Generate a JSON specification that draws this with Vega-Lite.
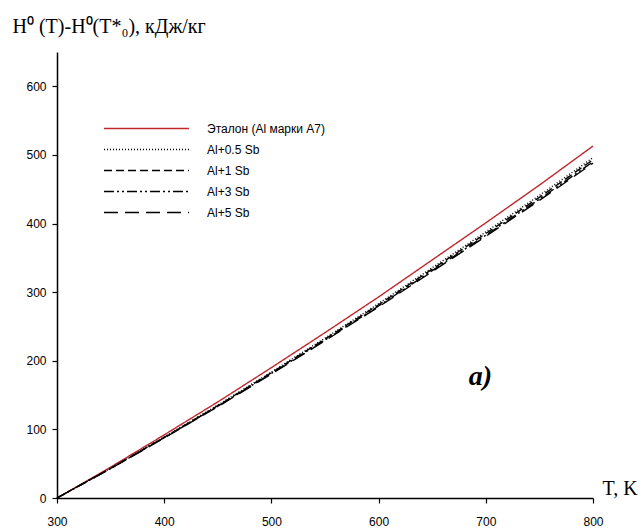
{
  "$schema": "https://vega.github.io/schema/vega-lite/v6.json",
  "width": 536,
  "height": 446,
  "autosize": {"type": "none"},
  "padding": {"left": 57, "top": 52, "right": 50, "bottom": 33},
  "background": "white",
  "config": {
    "view": {"stroke": null},
    "font": "Liberation Sans",
    "axis": {
      "domainColor": "black", "domainWidth": 1.5, "tickColor": "black", "tickWidth": 1.2, "tickSize": 5,
      "labelFont": "Liberation Sans", "labelFontSize": 12, "labelColor": "black", "grid": false,
      "titleFont": "Liberation Serif", "titleFontSize": 20, "titleFontWeight": "normal", "titleColor": "black"
    }
  },
  "datasets": {
    "curves": [
      {"T": 300, "H": 0, "s": "Эталон (Al марки А7)"},
      {"T": 350, "H": 45, "s": "Эталон (Al марки А7)"},
      {"T": 400, "H": 92, "s": "Эталон (Al марки А7)"},
      {"T": 450, "H": 140, "s": "Эталон (Al марки А7)"},
      {"T": 500, "H": 190, "s": "Эталон (Al марки А7)"},
      {"T": 550, "H": 241, "s": "Эталон (Al марки А7)"},
      {"T": 600, "H": 293, "s": "Эталон (Al марки А7)"},
      {"T": 650, "H": 347, "s": "Эталон (Al марки А7)"},
      {"T": 700, "H": 401, "s": "Эталон (Al марки А7)"},
      {"T": 750, "H": 456, "s": "Эталон (Al марки А7)"},
      {"T": 800, "H": 513, "s": "Эталон (Al марки А7)"},
      {"T": 300, "H": 0, "s": "Al+0.5 Sb"},
      {"T": 350, "H": 43.5, "s": "Al+0.5 Sb"},
      {"T": 400, "H": 89, "s": "Al+0.5 Sb"},
      {"T": 450, "H": 135.4, "s": "Al+0.5 Sb"},
      {"T": 500, "H": 183.7, "s": "Al+0.5 Sb"},
      {"T": 550, "H": 233, "s": "Al+0.5 Sb"},
      {"T": 600, "H": 283.3, "s": "Al+0.5 Sb"},
      {"T": 650, "H": 335.5, "s": "Al+0.5 Sb"},
      {"T": 700, "H": 387.8, "s": "Al+0.5 Sb"},
      {"T": 750, "H": 441, "s": "Al+0.5 Sb"},
      {"T": 800, "H": 496, "s": "Al+0.5 Sb"},
      {"T": 300, "H": 0, "s": "Al+1 Sb"},
      {"T": 350, "H": 43.2, "s": "Al+1 Sb"},
      {"T": 400, "H": 88.4, "s": "Al+1 Sb"},
      {"T": 450, "H": 134.5, "s": "Al+1 Sb"},
      {"T": 500, "H": 182.6, "s": "Al+1 Sb"},
      {"T": 550, "H": 231.6, "s": "Al+1 Sb"},
      {"T": 600, "H": 281.6, "s": "Al+1 Sb"},
      {"T": 650, "H": 333.5, "s": "Al+1 Sb"},
      {"T": 700, "H": 385.4, "s": "Al+1 Sb"},
      {"T": 750, "H": 438.2, "s": "Al+1 Sb"},
      {"T": 800, "H": 493, "s": "Al+1 Sb"},
      {"T": 300, "H": 0, "s": "Al+3 Sb"},
      {"T": 350, "H": 43, "s": "Al+3 Sb"},
      {"T": 400, "H": 87.9, "s": "Al+3 Sb"},
      {"T": 450, "H": 133.7, "s": "Al+3 Sb"},
      {"T": 500, "H": 181.5, "s": "Al+3 Sb"},
      {"T": 550, "H": 230.2, "s": "Al+3 Sb"},
      {"T": 600, "H": 279.8, "s": "Al+3 Sb"},
      {"T": 650, "H": 331.4, "s": "Al+3 Sb"},
      {"T": 700, "H": 383, "s": "Al+3 Sb"},
      {"T": 750, "H": 435.5, "s": "Al+3 Sb"},
      {"T": 800, "H": 490, "s": "Al+3 Sb"},
      {"T": 300, "H": 0, "s": "Al+5 Sb"},
      {"T": 350, "H": 42.8, "s": "Al+5 Sb"},
      {"T": 400, "H": 87.5, "s": "Al+5 Sb"},
      {"T": 450, "H": 133.1, "s": "Al+5 Sb"},
      {"T": 500, "H": 180.7, "s": "Al+5 Sb"},
      {"T": 550, "H": 229.2, "s": "Al+5 Sb"},
      {"T": 600, "H": 278.6, "s": "Al+5 Sb"},
      {"T": 650, "H": 330, "s": "Al+5 Sb"},
      {"T": 700, "H": 381.4, "s": "Al+5 Sb"},
      {"T": 750, "H": 433.7, "s": "Al+5 Sb"},
      {"T": 800, "H": 488, "s": "Al+5 Sb"}
    ],
    "notes": [{"T": 695, "H": 164, "label": "а)"}]
  },
  "layer": [
    {
      "data": {"name": "curves"},
      "mark": {"type": "line", "strokeWidth": 1.4},
      "encoding": {
        "x": {
          "field": "T", "type": "quantitative",
          "scale": {"domain": [300, 800], "nice": false, "zero": false},
          "axis": {"values": [300, 400, 500, 600, 700, 800], "labelPadding": 13, "labelFlush": false,
                   "title": "T, K", "titleX": 545, "titleY": -4, "titleAlign": "left", "titleBaseline": "alphabetic", "titleAnchor": null}
        },
        "y": {
          "field": "H", "type": "quantitative",
          "scale": {"domain": [0, 650], "nice": false},
          "axis": {"values": [0, 100, 200, 300, 400, 500, 600], "labelPadding": 6,
                   "title": "H⁰ (T)-H⁰(T*₀), кДж/кг", "titleAngle": 0, "titleX": -45, "titleY": -20,
                   "titleAlign": "left", "titleBaseline": "alphabetic", "titleAnchor": null}
        },
        "color": {
          "field": "s", "type": "nominal",
          "scale": {"domain": ["Эталон (Al марки А7)", "Al+0.5 Sb", "Al+1 Sb", "Al+3 Sb", "Al+5 Sb"],
                    "range": ["#c0272d", "#000000", "#000000", "#000000", "#000000"]},
          "legend": {
            "title": null, "orient": "none", "legendX": 46, "legendY": 70,
            "symbolType": "stroke", "symbolSize": 7225, "symbolStrokeWidth": 1.4, "clipHeight": 13,
            "labelFont": "Liberation Sans", "labelFontSize": 12, "labelColor": "black",
            "labelOffset": 17, "rowPadding": 8
          }
        },
        "strokeDash": {
          "field": "s", "type": "nominal",
          "scale": {"domain": ["Эталон (Al марки А7)", "Al+0.5 Sb", "Al+1 Sb", "Al+3 Sb", "Al+5 Sb"],
                    "range": [[1, 0], [1, 2], [8, 4], [10, 3, 2, 3, 2, 3], [14, 7]]},
          "legend": {
            "title": null, "orient": "none", "legendX": 46, "legendY": 70,
            "symbolType": "stroke", "symbolSize": 7225, "symbolStrokeWidth": 1.4, "clipHeight": 13,
            "labelFont": "Liberation Sans", "labelFontSize": 12, "labelColor": "black",
            "labelOffset": 17, "rowPadding": 8
          }
        }
      }
    },
    {
      "data": {"name": "notes"},
      "mark": {"type": "text", "font": "Liberation Serif", "fontSize": 28, "fontWeight": "bold", "fontStyle": "italic", "align": "center", "baseline": "alphabetic", "color": "black"},
      "encoding": {
        "x": {"field": "T", "type": "quantitative"},
        "y": {"field": "H", "type": "quantitative"},
        "text": {"field": "label"}
      }
    }
  ]
}
